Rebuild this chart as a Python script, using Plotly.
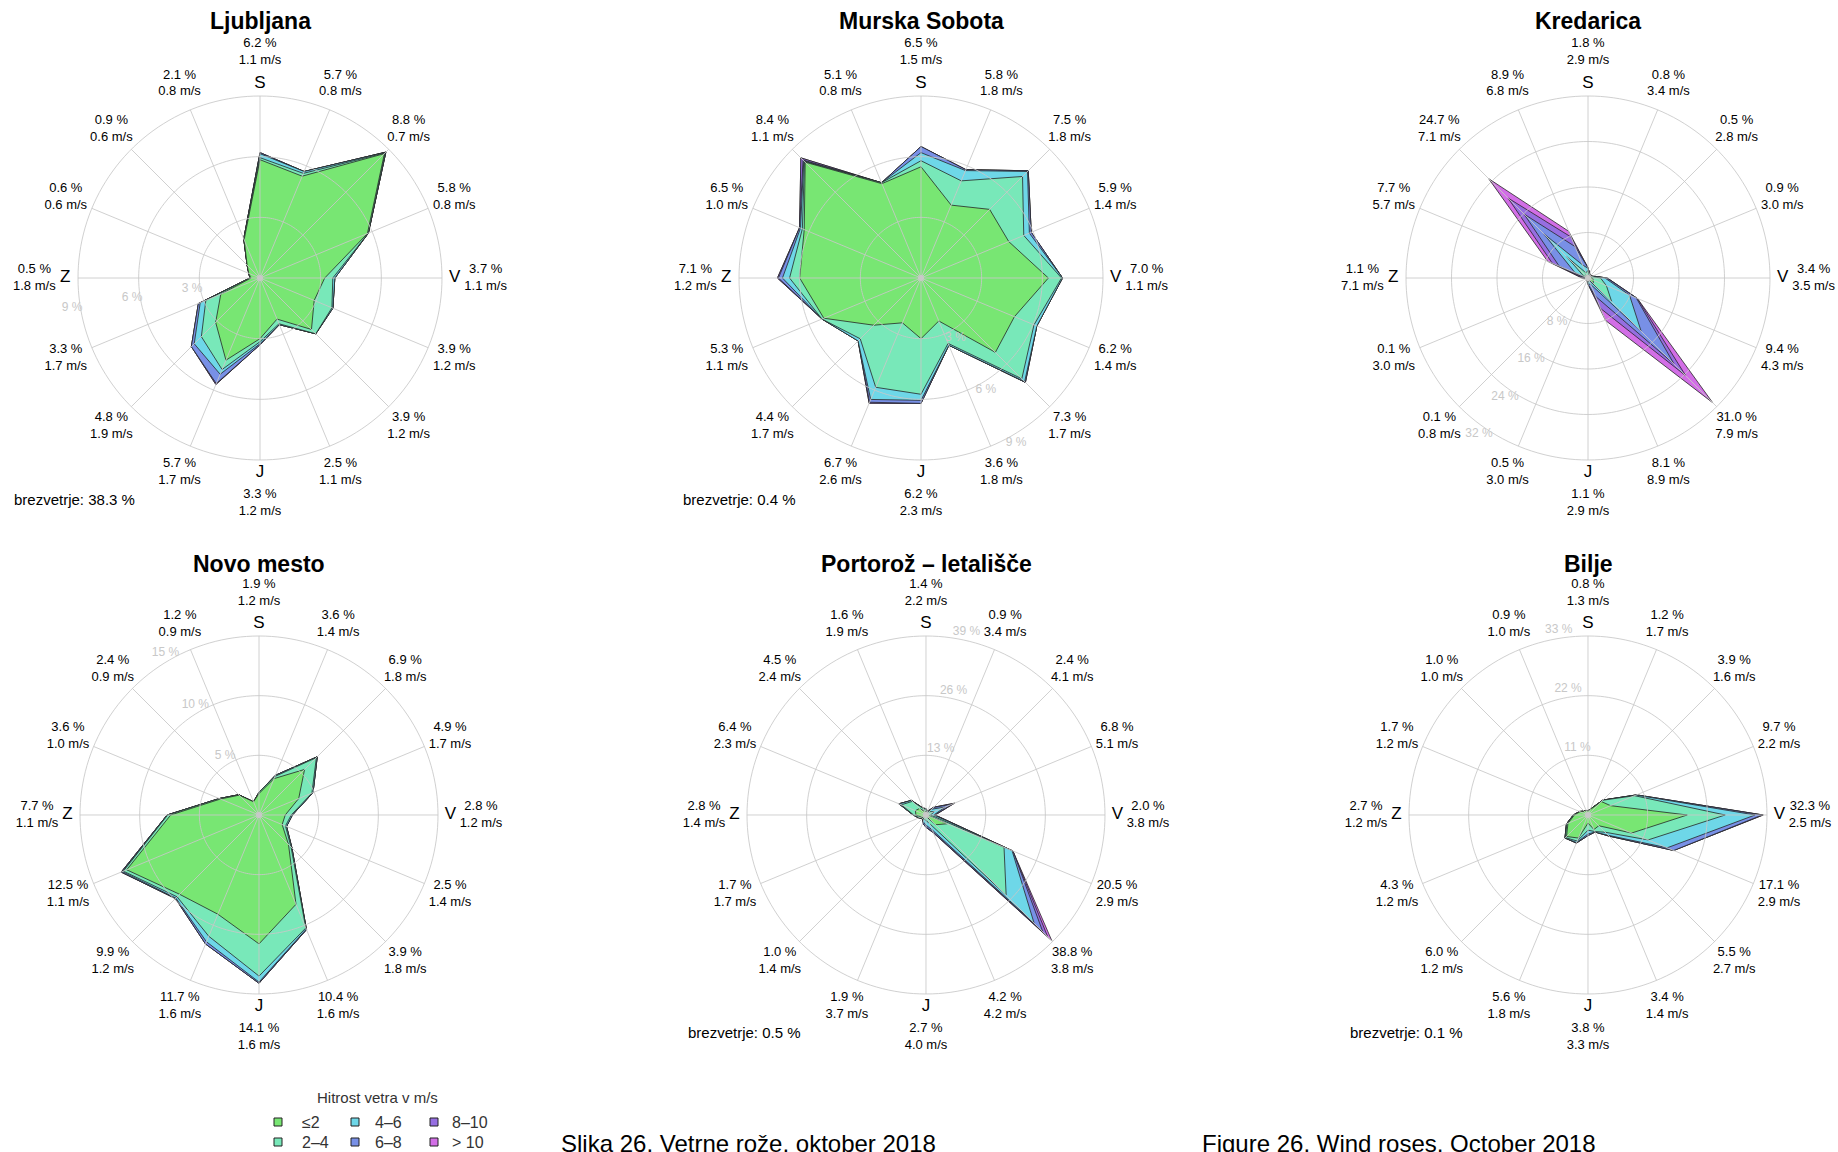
import plotly.graph_objects as go

# ---------------- data ----------------
DIRS = ["S", "SSV", "SV", "VSV", "V", "VJV", "JV", "JJV", "J", "JJZ", "JZ", "ZJZ", "Z", "ZSZ", "SZ", "SSZ"]
ANGLES = [i * 22.5 for i in range(16)]
CLASS_LABELS = ["≤2", "2–4", "4–6", "6–8", "8–10", "> 10"]
CLASS_COLORS = ["#78e673", "#78e8b9", "#6ed7e8", "#7890e6", "#966ee1", "#d26ee6"]
COMPASS = ["S", "V", "J", "Z"]

# Ljubljana
LJ_FREQ = [6.2, 5.7, 8.8, 5.8, 3.7, 3.9, 3.9, 2.5, 3.3, 5.7, 4.8, 3.3, 0.5, 0.6, 0.9, 2.1]
LJ_SPEED = [1.1, 0.8, 0.7, 0.8, 1.1, 1.2, 1.2, 1.1, 1.2, 1.7, 1.9, 1.7, 1.8, 0.6, 0.6, 0.8]
LJ_LE2 = [5.85, 5.45, 8.7, 5.75, 3.2, 2.9, 3.6, 2.2, 3.0, 4.4, 3.1, 2.1, 0.45, 0.6, 0.9, 2.05]
LJ_LE4 = [5.95, 5.6, 8.75, 5.8, 3.6, 3.85, 3.9, 2.45, 3.15, 4.9, 4.1, 2.9, 0.5, 0.6, 0.9, 2.1]
LJ_LE6 = [6.15, 5.7, 8.8, 5.8, 3.7, 3.9, 3.9, 2.5, 3.25, 5.15, 4.6, 3.2, 0.5, 0.6, 0.9, 2.1]
LJ_LE8 = [6.2, 5.7, 8.8, 5.8, 3.7, 3.9, 3.9, 2.5, 3.3, 5.65, 4.8, 3.3, 0.5, 0.6, 0.9, 2.1]
LJ_LE10 = [6.2, 5.7, 8.8, 5.8, 3.7, 3.9, 3.9, 2.5, 3.3, 5.7, 4.8, 3.3, 0.5, 0.6, 0.9, 2.1]
LJ_TICKS = [3, 6, 9]
LJ_CALM = 38.3

# Murska Sobota
MS_FREQ = [6.5, 5.8, 7.5, 5.9, 7.0, 6.2, 7.3, 3.6, 6.2, 6.7, 4.4, 5.3, 7.1, 6.5, 8.4, 5.1]
MS_SPEED = [1.5, 1.8, 1.8, 1.4, 1.1, 1.4, 1.7, 1.8, 2.3, 2.6, 1.7, 1.1, 1.2, 1.0, 1.1, 0.8]
MS_LE2 = [5.5, 3.9, 4.8, 4.7, 6.3, 5.0, 5.2, 2.3, 3.0, 2.4, 3.3, 5.2, 6.0, 6.25, 8.1, 5.05]
MS_LE4 = [5.8, 5.2, 7.1, 5.5, 6.95, 6.05, 7.05, 3.5, 5.75, 5.85, 4.25, 5.3, 6.5, 6.35, 8.15, 5.1]
MS_LE6 = [6.2, 5.75, 7.45, 5.8, 7.0, 6.2, 7.25, 3.6, 6.05, 6.5, 4.4, 5.3, 6.85, 6.45, 8.2, 5.1]
MS_LE8 = [6.5, 5.8, 7.5, 5.9, 7.0, 6.2, 7.3, 3.6, 6.2, 6.65, 4.4, 5.3, 7.05, 6.5, 8.25, 5.1]
MS_LE10 = [6.5, 5.8, 7.5, 5.9, 7.0, 6.2, 7.3, 3.6, 6.2, 6.7, 4.4, 5.3, 7.1, 6.5, 8.4, 5.1]
MS_TICKS = [3, 6, 9]
MS_CALM = 0.4

# Kredarica
KR_FREQ = [1.8, 0.8, 0.5, 0.9, 3.4, 9.4, 31.0, 8.1, 1.1, 0.5, 0.1, 0.1, 1.1, 7.7, 24.7, 8.9]
KR_SPEED = [2.9, 3.4, 2.8, 3.0, 3.5, 4.3, 7.9, 8.9, 2.9, 3.0, 0.8, 3.0, 7.1, 5.7, 7.1, 6.8]
KR_LE2 = [0.5, 0.2, 0.2, 0.3, 0.8, 1.0, 1.3, 0.1, 0.3, 0.15, 0.1, 0.03, 0.0, 0.2, 0.8, 0.2]
KR_LE4 = [1.3, 0.5, 0.4, 0.7, 2.2, 3.5, 5.9, 0.4, 0.8, 0.4, 0.1, 0.08, 0.1, 0.8, 5.4, 1.0]
KR_LE6 = [1.7, 0.75, 0.5, 0.9, 3.0, 7.9, 13.2, 1.2, 1.05, 0.5, 0.1, 0.1, 0.3, 2.5, 11.0, 2.5]
KR_LE8 = [1.8, 0.8, 0.5, 0.9, 3.3, 9.2, 21.4, 3.5, 1.1, 0.5, 0.1, 0.1, 0.6, 5.5, 15.9, 6.0]
KR_LE10 = [1.8, 0.8, 0.5, 0.9, 3.4, 9.4, 24.3, 5.8, 1.1, 0.5, 0.1, 0.1, 0.9, 6.8, 19.9, 7.8]
KR_TICKS = [8, 16, 24, 32]
KR_CALM = None

# Novo mesto
NM_FREQ = [1.9, 3.6, 6.9, 4.9, 2.8, 2.5, 3.9, 10.4, 14.1, 11.7, 9.9, 12.5, 7.7, 3.6, 2.4, 1.2]
NM_SPEED = [1.2, 1.4, 1.8, 1.7, 1.2, 1.4, 1.8, 1.6, 1.6, 1.6, 1.2, 1.1, 1.1, 1.0, 0.9, 0.9]
NM_LE2 = [1.8, 3.3, 5.4, 3.6, 2.2, 2.1, 3.5, 8.1, 10.8, 9.0, 9.4, 12.0, 7.4, 3.5, 2.35, 1.2]
NM_LE4 = [1.9, 3.5, 6.8, 4.8, 2.7, 2.4, 3.8, 10.25, 13.5, 11.0, 9.7, 12.3, 7.65, 3.6, 2.4, 1.2]
NM_LE6 = [1.9, 3.6, 6.9, 4.9, 2.8, 2.5, 3.9, 10.35, 14.0, 11.5, 9.85, 12.4, 7.7, 3.6, 2.4, 1.2]
NM_LE8 = [1.9, 3.6, 6.9, 4.9, 2.8, 2.5, 3.9, 10.4, 14.1, 11.7, 9.9, 12.5, 7.7, 3.6, 2.4, 1.2]
NM_LE10 = [1.9, 3.6, 6.9, 4.9, 2.8, 2.5, 3.9, 10.4, 14.1, 11.7, 9.9, 12.5, 7.7, 3.6, 2.4, 1.2]
NM_TICKS = [5, 10, 15]
NM_CALM = None

# Portorož – letališče
PO_FREQ = [1.4, 0.9, 2.4, 6.8, 2.0, 20.5, 38.8, 4.2, 2.7, 1.9, 1.0, 1.7, 2.8, 6.4, 4.5, 1.6]
PO_SPEED = [2.2, 3.4, 4.1, 5.1, 3.8, 2.9, 3.8, 4.2, 4.0, 3.7, 1.4, 1.7, 1.4, 2.3, 2.4, 1.9]
PO_LE2 = [0.7, 0.2, 0.3, 0.5, 0.3, 5.0, 3.0, 0.5, 0.3, 0.3, 0.8, 1.1, 2.2, 2.5, 2.0, 0.9]
PO_LE4 = [1.2, 0.6, 1.0, 2.0, 1.0, 18.4, 24.7, 2.0, 1.2, 1.0, 1.0, 1.6, 2.7, 5.8, 4.2, 1.5]
PO_LE6 = [1.4, 0.8, 1.8, 4.5, 1.7, 20.3, 33.3, 3.5, 2.2, 1.6, 1.0, 1.7, 2.8, 6.3, 4.5, 1.6]
PO_LE8 = [1.4, 0.9, 2.3, 6.2, 1.9, 20.5, 36.0, 4.0, 2.6, 1.9, 1.0, 1.7, 2.8, 6.4, 4.5, 1.6]
PO_LE10 = [1.4, 0.9, 2.4, 6.6, 2.0, 20.5, 37.5, 4.2, 2.7, 1.9, 1.0, 1.7, 2.8, 6.4, 4.5, 1.6]
PO_TICKS = [13, 26, 39]
PO_CALM = 0.5

# Bilje
BI_FREQ = [0.8, 1.2, 3.9, 9.7, 32.3, 17.1, 5.5, 3.4, 3.8, 5.6, 6.0, 4.3, 2.7, 1.7, 1.0, 0.9]
BI_SPEED = [1.3, 1.7, 1.6, 2.2, 2.5, 2.9, 2.7, 1.4, 3.3, 1.8, 1.2, 1.2, 1.2, 1.2, 1.0, 1.0]
BI_LE2 = [0.75, 1.1, 3.5, 4.5, 18.3, 8.7, 2.8, 2.9, 1.5, 4.6, 5.6, 4.0, 2.5, 1.6, 1.0, 0.9]
BI_LE4 = [0.8, 1.2, 3.85, 9.3, 25.3, 12.0, 4.5, 3.3, 2.8, 5.2, 5.9, 4.2, 2.65, 1.7, 1.0, 0.9]
BI_LE6 = [0.8, 1.2, 3.9, 9.6, 30.8, 15.8, 5.3, 3.4, 3.5, 5.5, 6.0, 4.3, 2.7, 1.7, 1.0, 0.9]
BI_LE8 = [0.8, 1.2, 3.9, 9.7, 32.1, 17.1, 5.5, 3.4, 3.8, 5.6, 6.0, 4.3, 2.7, 1.7, 1.0, 0.9]
BI_LE10 = [0.8, 1.2, 3.9, 9.7, 32.3, 17.1, 5.5, 3.4, 3.8, 5.6, 6.0, 4.3, 2.7, 1.7, 1.0, 0.9]
BI_TICKS = [11, 22, 33]
BI_CALM = 0.1

STATIONS = [
    dict(name="Ljubljana", freq=LJ_FREQ, speed=LJ_SPEED, layers=[LJ_LE2, LJ_LE4, LJ_LE6, LJ_LE8, LJ_LE10, LJ_FREQ],
         ticks=LJ_TICKS, calm=LJ_CALM, ring_theta=261),
    dict(name="Murska Sobota", freq=MS_FREQ, speed=MS_SPEED, layers=[MS_LE2, MS_LE4, MS_LE6, MS_LE8, MS_LE10, MS_FREQ],
         ticks=MS_TICKS, calm=MS_CALM, ring_theta=150),
    dict(name="Kredarica", freq=KR_FREQ, speed=KR_SPEED, layers=[KR_LE2, KR_LE4, KR_LE6, KR_LE8, KR_LE10, KR_FREQ],
         ticks=KR_TICKS, calm=KR_CALM, ring_theta=215),
    dict(name="Novo mesto", freq=NM_FREQ, speed=NM_SPEED, layers=[NM_LE2, NM_LE4, NM_LE6, NM_LE8, NM_LE10, NM_FREQ],
         ticks=NM_TICKS, calm=NM_CALM, ring_theta=330),
    dict(name="Portorož – letališče", freq=PO_FREQ, speed=PO_SPEED, layers=[PO_LE2, PO_LE4, PO_LE6, PO_LE8, PO_LE10, PO_FREQ],
         ticks=PO_TICKS, calm=PO_CALM, ring_theta=12.5),
    dict(name="Bilje", freq=BI_FREQ, speed=BI_SPEED, layers=[BI_LE2, BI_LE4, BI_LE6, BI_LE8, BI_LE10, BI_FREQ],
         ticks=BI_TICKS, calm=BI_CALM, ring_theta=351),
]

# ---------------- layout geometry ----------------
W, H = 1838, 1152
RADII = [182, 182, 182, 179, 179, 179]   # pixel radius of the outer ring
RF = 1.32                                 # radial range extends beyond the outer ring to hold labels
CENTERS = [(260, 278), (921, 278), (1588, 278), (259, 815), (926, 815), (1588, 815)]
TITLE_OFF = [257, 257, 257, 251, 251, 251]
FONT = "Liberation Sans, Arial, sans-serif"
GRID = "rgba(200,200,200,0.85)"

fig = go.Figure()
layout_polars = {}
annotations = []
shapes = []

theta_closed = ANGLES + [ANGLES[0]]
circle_theta = list(range(0, 361, 2))

for k, (st, (cx, cy), R) in enumerate(zip(STATIONS, CENTERS, RADII)):
    pid = "polar" if k == 0 else f"polar{k + 1}"
    sub = pid
    rmax = st["ticks"][-1]

    # stacked polygons, outermost first
    for ci in range(5, -1, -1):
        rr = st["layers"][ci]
        fig.add_trace(go.Scatterpolar(
            r=rr + [rr[0]], theta=theta_closed, mode="lines", fill="toself",
            fillcolor=CLASS_COLORS[ci], line=dict(color="#262626", width=0.8),
            subplot=sub, hoverinfo="skip", showlegend=False))

    # grid (spokes + rings) drawn over the fills
    gr, gt = [], []
    for a in ANGLES:
        gr += [0, rmax, None]
        gt += [a, a, None]
    for t in st["ticks"]:
        gr += [t] * len(circle_theta) + [None]
        gt += circle_theta + [None]
    fig.add_trace(go.Scatterpolar(r=gr, theta=gt, mode="lines", line=dict(color=GRID, width=1),
                                  connectgaps=False, subplot=sub, hoverinfo="skip", showlegend=False))

    # centre dot
    fig.add_trace(go.Scatterpolar(r=[0], theta=[0], mode="markers",
                                  marker=dict(size=6, color="#c8c8c8"),
                                  subplot=sub, hoverinfo="skip", showlegend=False))

    # ring labels
    fig.add_trace(go.Scatterpolar(
        r=[t + 0.045 * rmax for t in st["ticks"]], theta=[st["ring_theta"]] * len(st["ticks"]),
        mode="text", text=[f"{t} %" for t in st["ticks"]],
        textfont=dict(family=FONT, size=12, color="#c8c8c8"),
        subplot=sub, hoverinfo="skip", showlegend=False, cliponaxis=False))

    # compass letters
    fig.add_trace(go.Scatterpolar(
        r=[1.07 * rmax] * 4, theta=[0, 90, 180, 270], mode="text", text=COMPASS,
        textfont=dict(family=FONT, size=17, color="black"),
        subplot=sub, hoverinfo="skip", showlegend=False, cliponaxis=False))

    # direction labels
    rlab = [(1.24 if a % 90 == 0 else 1.155) * rmax for a in ANGLES]
    txt = [f"{f:.1f} %<br>{s:.1f} m/s" for f, s in zip(st["freq"], st["speed"])]
    fig.add_trace(go.Scatterpolar(
        r=rlab, theta=ANGLES, mode="text", text=txt,
        textfont=dict(family=FONT, size=13, color="black"),
        subplot=sub, hoverinfo="skip", showlegend=False, cliponaxis=False))

    RD = R * RF
    layout_polars[pid] = dict(
        domain=dict(x=[(cx - RD) / W, (cx + RD) / W], y=[1 - (cy + RD) / H, 1 - (cy - RD) / H]),
        bgcolor="rgba(0,0,0,0)",
        angularaxis=dict(direction="clockwise", rotation=90, showgrid=False, showticklabels=False,
                         ticks="", showline=False),
        radialaxis=dict(range=[0, RF * rmax], showgrid=False, showticklabels=False,
                        ticks="", showline=False),
    )

    # title
    annotations.append(dict(text=f"<b>{st['name']}</b>", x=cx / W, y=1 - (cy - TITLE_OFF[k]) / H,
                            xref="paper", yref="paper", showarrow=False, xanchor="center", yanchor="middle",
                            font=dict(family=FONT, size=23, color="black")))
    # calm
    if st["calm"] is not None:
        annotations.append(dict(text=f"brezvetrje: {st['calm']:.1f} %", x=(cx - 123) / W,
                                y=1 - (cy + 1.215 * R) / H,
                                xref="paper", yref="paper", showarrow=False, xanchor="right", yanchor="middle",
                                font=dict(family=FONT, size=15, color="black")))

# ---------------- legend (manual) ----------------
annotations.append(dict(text="Hitrost vetra v m/s", x=377 / W, y=1 - 1097 / H, xref="paper", yref="paper",
                        showarrow=False, xanchor="center", yanchor="middle",
                        font=dict(family=FONT, size=15, color="#333333")))
col_box = [278, 355, 434]
col_txt = [300, 373, 450]
row_y = [1122, 1142]
for i, (lab, col) in enumerate(zip(CLASS_LABELS, CLASS_COLORS)):
    c, rw = i // 2, i % 2
    bx, by = col_box[c], row_y[rw]
    shapes.append(dict(type="rect", xref="paper", yref="paper",
                       x0=(bx - 4) / W, x1=(bx + 4) / W, y0=1 - (by + 4) / H, y1=1 - (by - 4) / H,
                       fillcolor=col, line=dict(color="#222222", width=1)))
    annotations.append(dict(text=lab, x=col_txt[c] / W, y=1 - by / H, xref="paper", yref="paper",
                            showarrow=False, xanchor="left", yanchor="middle",
                            font=dict(family=FONT, size=16, color="#333333")))

# captions
annotations.append(dict(text="Slika 26. Vetrne rože, oktober 2018", x=559 / W, y=1 - 1128 / H,
                        xref="paper", yref="paper", showarrow=False, xanchor="left", yanchor="top",
                        font=dict(family=FONT, size=24, color="black")))
annotations.append(dict(text="Figure 26. Wind roses, October 2018", x=1200 / W, y=1 - 1128 / H,
                        xref="paper", yref="paper", showarrow=False, xanchor="left", yanchor="top",
                        font=dict(family=FONT, size=24, color="black")))

fig.update_layout(width=W, height=H, margin=dict(l=0, r=0, t=0, b=0),
                  paper_bgcolor="white", plot_bgcolor="white", showlegend=False,
                  annotations=annotations, shapes=shapes, **layout_polars)

fig.write_html("out.html", config={"displayModeBar": False},
               post_script="document.body.style.margin='0';document.body.style.overflow='hidden';")
